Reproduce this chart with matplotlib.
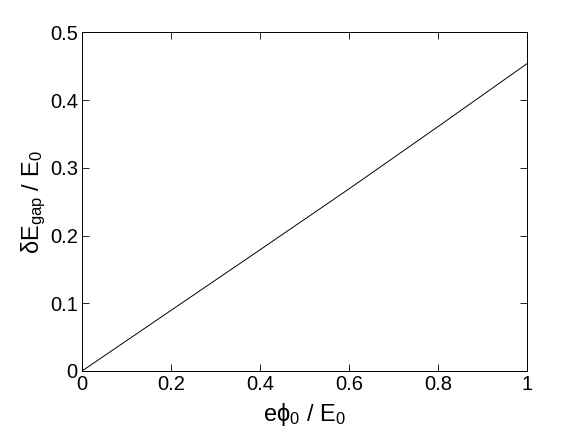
import matplotlib
matplotlib.use("Agg")
import matplotlib.pyplot as plt

plt.rcParams["font.family"] = ["Liberation Sans", "DejaVu Sans"]
plt.rcParams["mathtext.default"] = "regular"

# values
phi = [0.0, 0.2, 0.4, 0.6, 0.8, 1.0]
gap = [0.0, 0.0895, 0.179, 0.269, 0.361, 0.454]

xticks = [0, 0.2, 0.4, 0.6, 0.8, 1]
xtick_labels = ["0", "0.2", "0.4", "0.6", "0.8", "1"]
yticks = [0, 0.1, 0.2, 0.3, 0.4, 0.5]
ytick_labels = ["0", "0.1", "0.2", "0.3", "0.4", "0.5"]

fig = plt.figure(figsize=(5.82, 4.38), dpi=100)
ax = fig.add_axes([0.1409, 0.153, 0.7646, 0.7728])
ax.plot(phi, gap, color="black", linewidth=0.7)

ax.set_xlim(0, 1)
ax.set_ylim(0, 0.5)
ax.set_xticks(xticks)
ax.set_xticklabels(xtick_labels)
ax.set_yticks(yticks)
ax.set_yticklabels(ytick_labels)
ax.tick_params(direction="in", length=5, width=0.6, labelsize=14.5,
               top=True, right=True, pad=3)
for sp in ax.spines.values():
    sp.set_linewidth(0.7)

ax.set_xlabel("eϕ$_0$ / E$_0$", fontsize=17, labelpad=5)
ax.set_ylabel("δE$_{gap}$ / E$_0$", fontsize=17, labelpad=1)

fig.savefig("out.png", dpi=100)
